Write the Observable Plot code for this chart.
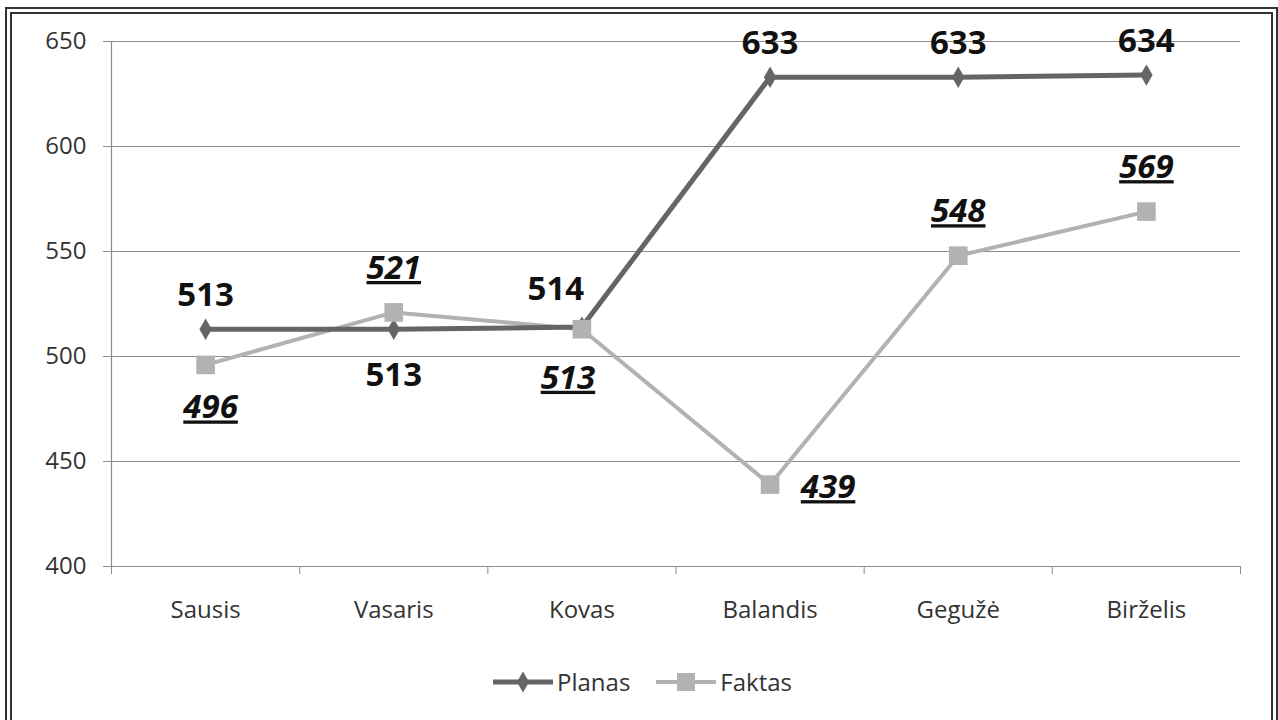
<!DOCTYPE html>
<html><head><meta charset="utf-8">
<script src="https://cdn.jsdelivr.net/npm/d3@7"></script>
<script src="https://cdn.jsdelivr.net/npm/@observablehq/plot@0.6"></script>
<style>
body{margin:0;background:#fff;overflow:hidden}
#wrap{position:relative;width:1278px;height:720px;font-family:"Open Sans",sans-serif}
#chart{position:absolute;left:0;top:0}
#frame{position:absolute;left:5px;top:7px;width:1259px;height:760px;border:7px double #333;pointer-events:none}
#legend{position:absolute;top:666px;left:493px;display:flex;align-items:center;font-size:24px;color:#333;line-height:32px}
#legend .item{display:flex;align-items:center;margin-right:26px}
#legend svg{margin-right:4px}
.flab{text-decoration:underline;text-decoration-thickness:3px;text-underline-offset:5px}
</style>
</head><body>
<div id="wrap"><div id="chart"></div><div id="frame"></div><div id="legend"></div></div>
<script>
const months = ["Sausis","Vasaris","Kovas","Balandis","Gegužė","Birželis"];
const planas = [513,513,514,633,633,634];
const faktas = [496,521,513,439,548,569];
const yTicks = [400,450,500,550,600,650];
const seriesNames = ["Planas","Faktas"];
const colors = {Planas:"#656565", Faktas:"#b2b2b2"};

const rows = months.map((m,i)=>({month:m, i, planas:planas[i], faktas:faktas[i]}));
const xPos = d => d.i + 0.5;
const inM = list => d => list.includes(d.month);

const planLab = {x:xPos, y:"planas", text:d=>String(d.planas), fontWeight:"bold", fontSize:33, fill:"#111"};
const faktLab = {x:xPos, y:"faktas", text:d=>String(d.faktas), fontWeight:"bold", fontStyle:"italic", fontSize:33, fill:"#111"};

const chart = Plot.plot({
  width:1278, height:720,
  marginLeft:111, marginRight:38, marginTop:41, marginBottom:154,
  x:{domain:[0,6]},
  y:{domain:[400,650]},
  style:{fontFamily:"'Open Sans', sans-serif", fontSize:"24px", background:"transparent"},
  marks:[
    Plot.gridY(yTicks,{stroke:"#8c8c8c", strokeOpacity:1, strokeWidth:1.2}),
    Plot.ruleX([0],{stroke:"#8c8c8c", strokeWidth:1.2}),
    Plot.axisY({ticks:yTicks, tickSize:8, tickPadding:17, label:null, stroke:"#8c8c8c", fill:"#333", fontSize:24}),
    Plot.axisX({ticks:d3.range(months.length+1), tickSize:8, tickFormat:()=>"", label:null, stroke:"#8c8c8c"}),
    Plot.axisX({ticks:months.map((m,i)=>i+0.5), tickFormat:v=>months[Math.round(v-0.5)], tickSize:0, tickPadding:34, label:null, fill:"#333", fontSize:24}),
    Plot.lineY(rows,{x:xPos, y:"faktas", stroke:colors.Faktas, strokeWidth:4}),
    Plot.lineY(rows,{x:xPos, y:"planas", stroke:colors.Planas, strokeWidth:5}),
    Plot.dot(rows,{x:xPos, y:"planas", symbol:"diamond", r:6.5, fill:colors.Planas}),
    Plot.dot(rows,{x:xPos, y:"faktas", symbol:"square", r:10.5, fill:colors.Faktas}),
    Plot.text(rows,{...planLab, filter:inM(["Sausis","Balandis","Gegužė","Birželis"]), dy:-34}),
    Plot.text(rows,{...planLab, filter:inM(["Vasaris"]), dy:46}),
    Plot.text(rows,{...planLab, filter:inM(["Kovas"]), dy:-38, dx:-26}),
    Plot.text(rows,{...faktLab, filter:inM(["Sausis"]), dy:43, dx:5}),
    Plot.text(rows,{...faktLab, filter:inM(["Kovas"]), dy:49, dx:-14}),
    Plot.text(rows,{...faktLab, filter:inM(["Vasaris","Gegužė","Birželis"]), dy:-44}),
    Plot.text(rows,{...faktLab, filter:inM(["Balandis"]), dx:58, dy:3})
  ]
});
chart.querySelectorAll("text").forEach(t=>{ if (t.closest('[font-style="italic"]')) t.classList.add("flab"); });
document.getElementById("chart").appendChild(chart);

const legend = d3.select("#legend");
seriesNames.forEach(name=>{
  const it = legend.append("div").attr("class","item");
  const s = it.append("svg").attr("width",60).attr("height",24);
  s.append("line").attr("x1",0).attr("x2",60).attr("y1",12).attr("y2",12)
    .attr("stroke",colors[name]).attr("stroke-width",name==="Planas"?5:4);
  if (name==="Planas") s.append("path").attr("transform","translate(30,12)").attr("d",d3.symbol(d3.symbolDiamond,130)()).attr("fill",colors[name]);
  else s.append("rect").attr("x",21).attr("y",3).attr("width",18).attr("height",18).attr("fill",colors[name]);
  it.append("span").text(name);
});
</script>
</body></html>
